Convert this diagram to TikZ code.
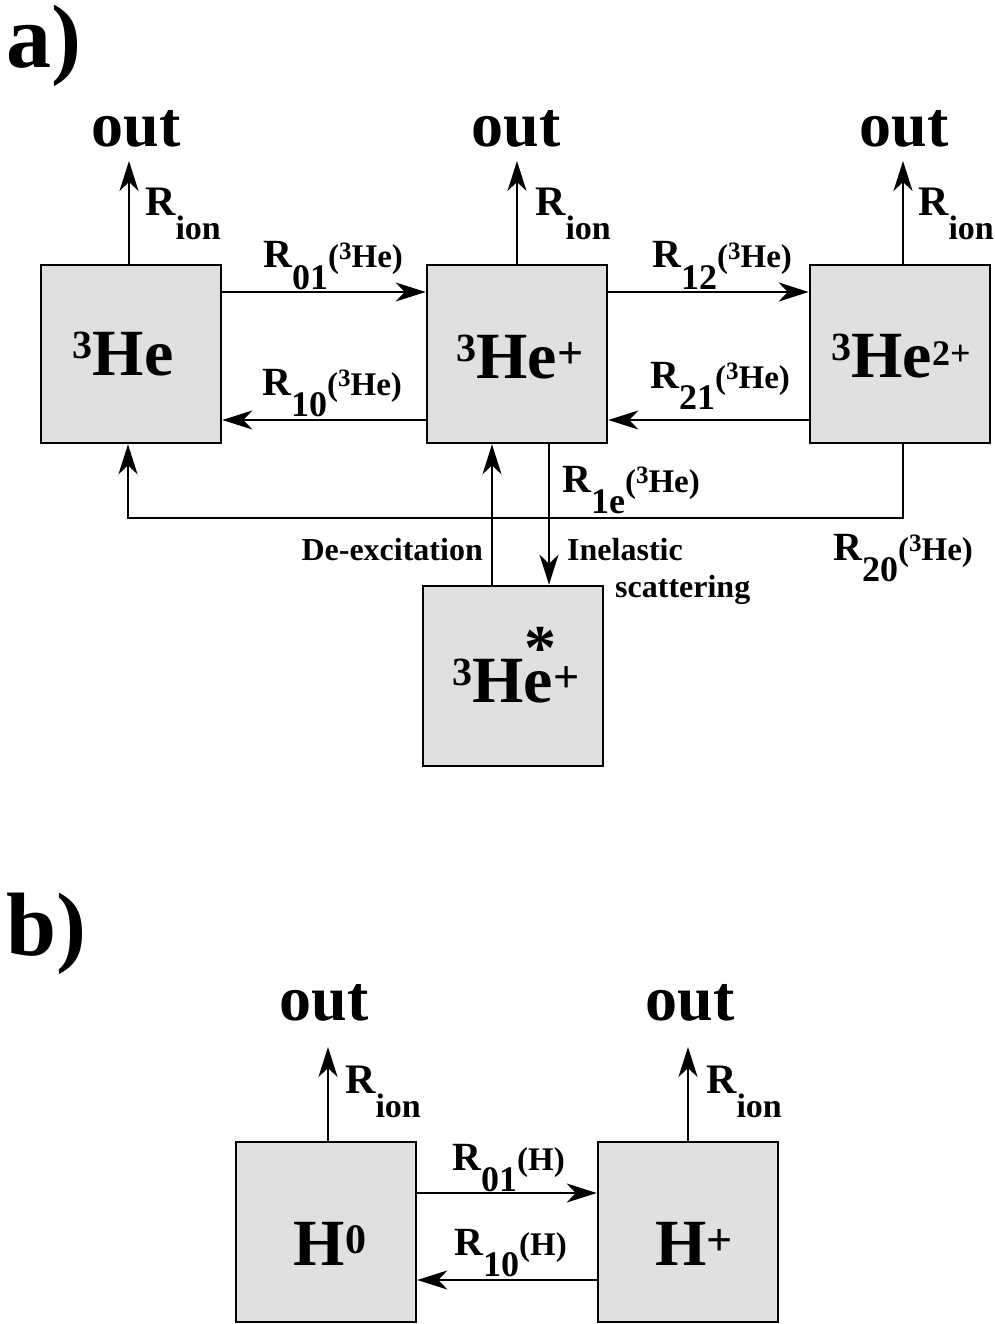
\documentclass[tikz,border=0pt]{standalone}
\usepackage{fontspec}
\setmainfont{Liberation Serif}
\usetikzlibrary{arrows.meta}
\newcommand{\fs}[1]{\fontsize{#1}{#1}\selectfont}
\newcommand{\Rrate}[2]{{\fs{40}R}\raisebox{-21pt}{\fs{36}#1}{\fs{33}(#2)}}
\newcommand{\HeIso}{\raisebox{9pt}{\fs{25}3}He}
\newcommand{\Rion}{{\fs{42}R}\raisebox{-24pt}{\fs{34}ion}}
\newcommand{\IsoThree}{\raisebox{17pt}{\fs{40}3}}
\newcommand{\Plus}{\raisebox{10pt}{\fs{46}+}}
\tikzset{
  every node/.style={font=\bfseries, inner sep=0pt},
  box/.style={draw, line width=2.6pt, fill=gray!24, minimum width=180pt, minimum height=178pt},
  boxb/.style={box, minimum height=180pt},
  arr/.style={line width=2pt, -{Stealth[length=30pt,width=19pt,inset=9pt]}},
  outlbl/.style={font=\bfseries\fs{64}, anchor=base},
  rlbl/.style={anchor=base west},
  small/.style={font=\bfseries\fs{32}},
  big/.style={font=\bfseries\fs{66}, anchor=base},
  panel/.style={font=\bfseries\fs{90}, anchor=base west}
}
\begin{document}
\begin{tikzpicture}[x=1pt,y=-1pt]
\useasboundingbox (0,0) rectangle (994,1324);

% panel labels
\node[panel] (pa) at (6,68) {a)};
\node[panel] (pb) at (6,955) {b)};

% ---- part a ----
\node[box] (he0) at (131,354) {};
\node[box] (he1) at (517,354) {};
\node[box] (he2) at (900,354) {};
\node[boxb] (exc) at (513,676) {};

\node[big] (he0t) at (123,375) {\IsoThree He};
\node[big] (he1t) at (520,378) {\IsoThree He\Plus};
\node[big] (he2t) at (901,377) {\IsoThree He\raisebox{12pt}{\fs{36}2+}};
\node[big] (exct) at (516,702) {\IsoThree He\makebox[0pt][r]{\raisebox{33pt}{\fs{64}*}\hspace{-3pt}}\Plus};

\node[outlbl] (o0) at (136,147) {out};
\node[outlbl] (o1) at (516,147) {out};
\node[outlbl] (o2) at (904,147) {out};

\draw[arr, shorten >=13pt] ([xshift=-2pt]he0.north) -- ([xshift=-2pt]he0.north |- o0.south);
\draw[arr, shorten >=13pt] (he1.north) -- (he1.north |- o1.south);
\draw[arr, shorten >=13pt] ([xshift=3pt]he2.north) -- ([xshift=3pt]he2.north |- o2.south);

\node[rlbl] (ri0) at (145,216) {\Rion};
\node[rlbl] (ri1) at (535,216) {\Rion};
\node[rlbl] (ri2) at (918,216) {\Rion};

\draw[arr] ([yshift=62pt]he0.east) -- ([yshift=62pt]he1.west);
\draw[arr] ([yshift=-66pt]he1.west) -- ([yshift=-66pt]he0.east);
\draw[arr] ([yshift=62pt]he1.east) -- ([yshift=62pt]he2.west);
\draw[arr] ([yshift=-66pt]he2.west) -- ([yshift=-66pt]he1.east);

\node[rlbl] (r01) at (263,268) {\Rrate{01}{\HeIso}};
\node[rlbl] (r10) at (262,395) {\Rrate{10}{\HeIso}};
\node[rlbl] (r12) at (652,268) {\Rrate{12}{\HeIso}};
\node[rlbl] (r21) at (650,388) {\Rrate{21}{\HeIso}};
\node[rlbl] (r1e) at (562,492) {\Rrate{1e}{\HeIso}};
\node[rlbl] (r20) at (833,560) {\Rrate{20}{\HeIso}};

% R20 loop
\draw[arr] ([xshift=3pt]he2.south) -- ++(0,74) -| ([xshift=-3pt]he0.south);

% de-excitation and inelastic scattering
\draw[arr] ([xshift=-21pt]exc.north) -- ([xshift=-21pt]exc.north |- he1.south);
\draw[arr] ([xshift=32pt]he1.south) -- ([xshift=32pt]he1.south |- exc.north);

\node[small, anchor=base east] (dex) at (483,560) {De-excitation};
\node[small, anchor=base west] (inel) at (567,560) {Inelastic};
\node[small, anchor=base west] (scat) at (615,597) {scattering};

% ---- part b ----
\node[boxb] (h0) at (326,1232) {};
\node[boxb] (hp) at (688,1232) {};
\node[big] (h0t) at (330,1265) {H\raisebox{12pt}{\fs{42}0}};
\node[big] (hpt) at (694,1265) {H\Plus};

\node[outlbl] (o3) at (324,1020) {out};
\node[outlbl] (o4) at (690,1020) {out};
\draw[arr, shorten >=26pt] ([xshift=2pt]h0.north) -- ([xshift=2pt]h0.north |- o3.south);
\draw[arr, shorten >=26pt] (hp.north) -- (hp.north |- o4.south);
\node[rlbl] (ri3) at (345,1093) {\Rion};
\node[rlbl] (ri4) at (706,1093) {\Rion};

\draw[arr] ([yshift=39pt]h0.east) -- ([yshift=39pt]hp.west);
\draw[arr] ([yshift=-48pt]hp.west) -- ([yshift=-48pt]h0.east);
\node[rlbl] (r01h) at (452,1170) {\Rrate{01}{H}};
\node[rlbl] (r10h) at (454,1255) {\Rrate{10}{H}};
\end{tikzpicture}
\end{document}
